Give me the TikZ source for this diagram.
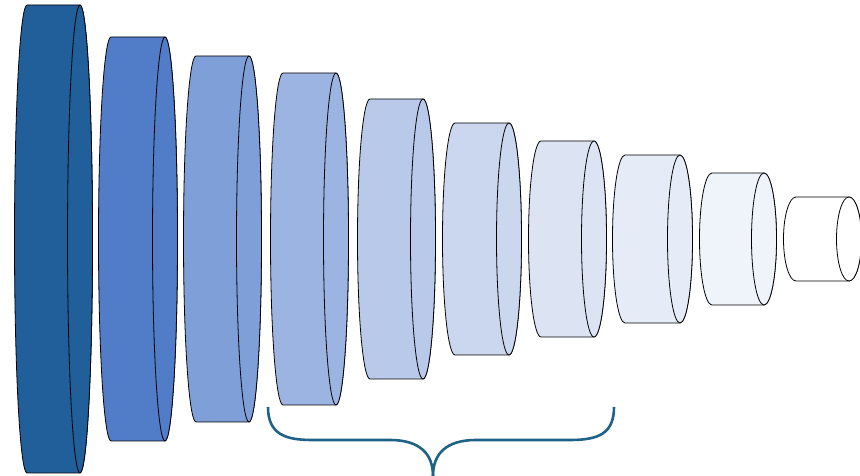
\documentclass[tikz,border=0pt]{standalone}
\usepackage{tikz}

% shades of the cylinder stack, darkest first
\definecolor{cylA}{HTML}{215F9A}
\definecolor{cylB}{HTML}{507CC8}
\definecolor{cylC}{HTML}{7F9FD8}
\definecolor{cylD}{HTML}{9CB4E1}
\definecolor{cylE}{HTML}{B8C9E9}
\definecolor{cylF}{HTML}{CBD7EE}
\definecolor{cylG}{HTML}{DCE4F4}
\definecolor{cylH}{HTML}{E6ECF7}
\definecolor{cylI}{HTML}{EFF3FA}
\definecolor{cylJ}{HTML}{FFFFFF}
\definecolor{bracecol}{HTML}{1E6387}

\tikzset{
  cylbody/.style={draw=black, line width=0.8pt, line join=round},
  braceline/.style={draw=bracecol, line width=2.6pt}
}

\begin{document}
\begin{tikzpicture}[x=1pt, y=1pt]
\useasboundingbox (0,0) rectangle (860,476);

% each entry: left end centre / right end centre / half height / fill
\foreach \L/\R/\ry/\col in {
  27/80/234/cylA,
  111/165/202/cylB,
  196/249/183/cylC,
  283/336/166/cylD,
  370/423/140/cylE,
  455/509/116/cylF,
  541/594/98/cylG,
  625/680/84/cylH,
  712/764/66/cylI,
  796/849/42/cylJ}
{
  \def\cy{237}
  \def\rx{12.5}
  % side surface with the visible half of the back end
  \path[cylbody, fill=\col]
    (\L, \cy+\ry) arc[start angle=90, end angle=270, x radius=\rx, y radius=\ry]
    -- (\R, \cy-\ry)
    arc[start angle=-90, end angle=90, x radius=\rx, y radius=\ry]
    -- cycle;
  % front end
  \path[cylbody, fill=\col] (\R, \cy) ellipse[x radius=\rx, y radius=\ry];
}

% curly brace under the middle group
\coordinate (bl) at (268,69);
\coordinate (tip) at (433,0);
\coordinate (br) at (614,69);
\draw[braceline]
  (bl) .. controls (268,42) and (285,36) .. (312,36)
  -- (390,36) .. controls (420,36) and (433,22) .. (tip);
\draw[braceline]
  (tip) .. controls (433,22) and (446,36) .. (476,36)
  -- (570,36) .. controls (598,36) and (614,42) .. (br);
\end{tikzpicture}
\end{document}
